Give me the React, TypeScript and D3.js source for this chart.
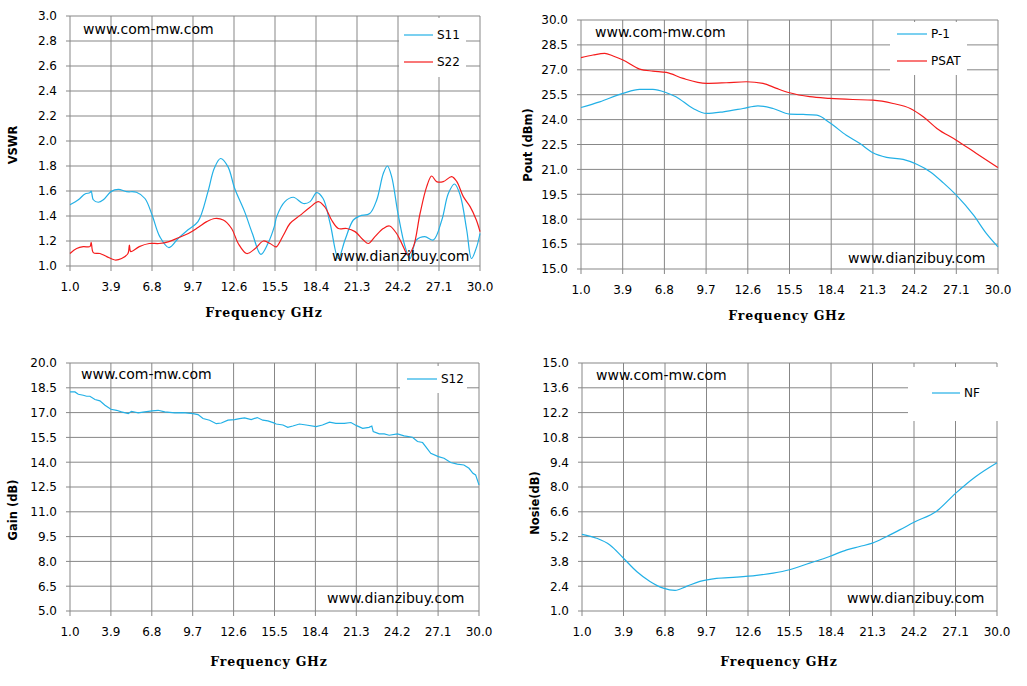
import React from 'react';
import * as d3 from 'd3';

type Pt = [number, number];

// x axis ticks (GHz), shared by all four charts
const freqTicks = [1.0, 3.9, 6.8, 9.7, 12.6, 15.5, 18.4, 21.3, 24.2, 27.1, 30.0];

// VSWR
const s11: Pt[] = [
    [1.0, 1.49], [1.59, 1.53], [2.06, 1.576], [2.41, 1.587], [2.5, 1.6], [2.65, 1.53], [3.0, 1.51],
    [3.36, 1.53], [3.9, 1.595], [4.42, 1.613], [5.0, 1.595], [5.7, 1.59], [6.3, 1.54], [6.8, 1.41],
    [7.35, 1.235], [8.0, 1.147], [8.65, 1.22], [9.35, 1.29], [10.05, 1.355], [10.76, 1.595],
    [11.2, 1.78], [11.65, 1.86], [12.17, 1.795], [12.65, 1.62], [13.35, 1.435], [13.9, 1.26],
    [14.5, 1.093], [15.0, 1.18], [15.45, 1.315], [15.62, 1.395], [16.2, 1.515], [16.8, 1.55],
    [17.5, 1.5], [17.98, 1.515], [18.45, 1.587], [18.9, 1.54], [19.4, 1.34], [19.98, 1.06],
    [20.45, 1.208], [21.04, 1.368], [21.5, 1.4], [22.2, 1.42], [22.7, 1.53], [23.16, 1.74],
    [23.45, 1.8], [23.75, 1.715], [24.2, 1.42], [24.7, 1.155], [25.05, 1.06], [25.5, 1.208],
    [26.1, 1.235], [26.7, 1.208], [27.3, 1.368], [27.76, 1.58], [28.2, 1.656], [28.6, 1.566],
    [29.06, 1.288], [29.4, 1.06], [29.77, 1.155], [30.0, 1.26],
];
const s22: Pt[] = [
    [1.0, 1.1], [1.47, 1.14], [1.94, 1.155], [2.41, 1.155], [2.5, 1.19], [2.65, 1.107], [3.12, 1.1],
    [3.6, 1.075], [4.18, 1.048], [4.65, 1.06], [5.1, 1.1], [5.2, 1.168], [5.3, 1.115], [5.9, 1.155],
    [6.6, 1.18], [7.3, 1.18], [8.0, 1.195], [8.66, 1.226], [9.37, 1.26], [10.08, 1.31], [10.67, 1.355],
    [11.25, 1.38], [11.84, 1.368], [12.43, 1.3], [12.9, 1.18], [13.5, 1.1], [14.1, 1.14], [14.68, 1.2],
    [15.15, 1.18], [15.5, 1.155], [15.62, 1.155], [16.1, 1.248], [16.56, 1.34], [17.27, 1.405],
    [17.98, 1.47], [18.57, 1.515], [19.04, 1.47], [19.5, 1.368], [19.98, 1.3], [20.57, 1.3],
    [21.16, 1.275], [21.75, 1.208], [22.1, 1.18], [22.57, 1.235], [23.16, 1.3], [23.6, 1.32],
    [24.1, 1.26], [24.57, 1.155], [24.9, 1.088], [25.29, 1.155], [25.76, 1.42], [26.23, 1.635],
    [26.58, 1.72], [26.93, 1.675], [27.4, 1.675], [28.0, 1.715], [28.36, 1.675], [28.82, 1.555],
    [29.3, 1.475], [29.74, 1.368], [30.0, 1.275],
];

// Pout
const p1: Pt[] = [
    [1.0, 24.73], [2.3, 25.07], [3.92, 25.58], [5.08, 25.82], [6.0, 25.82], [6.94, 25.62], [7.6, 25.38],
    [8.8, 24.67], [9.72, 24.37], [10.9, 24.47], [12.27, 24.67], [13.3, 24.83], [14.36, 24.67],
    [15.5, 24.33], [16.45, 24.31], [17.4, 24.27], [18.3, 23.81], [19.45, 23.06], [20.4, 22.56],
    [21.3, 22.0], [22.25, 21.72], [23.4, 21.6], [24.35, 21.31], [25.3, 20.85], [26.2, 20.19],
    [27.1, 19.45], [28.3, 18.24], [29.2, 17.13], [30.0, 16.33],
];
const psat: Pt[] = [
    [1.0, 27.73], [1.84, 27.89], [2.65, 27.99], [3.23, 27.83], [3.92, 27.59], [5.08, 27.04], [6.0, 26.92],
    [6.94, 26.84], [8.1, 26.48], [9.72, 26.18], [11.1, 26.22], [12.5, 26.28], [13.66, 26.18],
    [14.6, 25.88], [15.5, 25.62], [16.9, 25.38], [18.3, 25.28], [19.9, 25.21], [21.3, 25.17],
    [22.7, 24.97], [23.9, 24.67], [24.8, 24.17], [25.75, 23.47], [27.1, 22.76], [28.5, 21.96],
    [30.0, 21.11],
];

// Gain
const s12: Pt[] = [
    [1.0, 18.25], [1.35, 18.25], [1.59, 18.11], [1.94, 18.05], [2.18, 17.99], [2.41, 17.99], [2.77, 17.79],
    [3.12, 17.71], [3.48, 17.44], [3.9, 17.2], [4.3, 17.14], [4.65, 17.04], [5.13, 16.94], [5.36, 17.08],
    [5.83, 16.98], [6.3, 17.04], [6.82, 17.1], [7.25, 17.14], [7.72, 17.04], [8.43, 16.98], [9.0, 17.0],
    [9.72, 16.94], [10.08, 16.88], [10.43, 16.64], [10.9, 16.54], [11.37, 16.33], [11.73, 16.37],
    [12.2, 16.54], [12.67, 16.58], [13.02, 16.64], [13.38, 16.68], [13.85, 16.58], [14.28, 16.7],
    [14.67, 16.54], [15.03, 16.5], [15.45, 16.38], [15.62, 16.31], [16.1, 16.25], [16.44, 16.11],
    [16.8, 16.19], [17.27, 16.31], [17.74, 16.25], [18.45, 16.15], [18.9, 16.25], [19.4, 16.42],
    [19.85, 16.35], [20.45, 16.35], [20.92, 16.4], [21.32, 16.21], [21.75, 16.05], [22.2, 16.11],
    [22.4, 16.19], [22.5, 15.85], [22.93, 15.71], [23.28, 15.71], [23.63, 15.63], [24.22, 15.71],
    [24.69, 15.59], [25.28, 15.51], [25.64, 15.25], [26.0, 15.19], [26.22, 14.94], [26.58, 14.54],
    [27.12, 14.34], [27.52, 14.24], [27.99, 13.98], [28.46, 13.88], [28.93, 13.83], [29.29, 13.63],
    [29.57, 13.33], [29.76, 13.23], [30.0, 12.63],
];

// Noise figure
const nf: Pt[] = [
    [1.0, 5.33], [2.02, 5.11], [2.95, 4.73], [3.9, 3.98], [4.82, 3.23], [5.75, 2.67], [6.68, 2.29],
    [7.5, 2.16], [8.3, 2.39], [9.24, 2.67], [10.4, 2.84], [11.8, 2.91], [13.2, 3.01], [14.36, 3.14],
    [15.5, 3.33], [16.9, 3.7], [18.3, 4.08], [19.5, 4.45], [20.4, 4.64], [21.3, 4.83], [22.3, 5.21],
    [23.2, 5.58], [24.2, 6.01], [25.8, 6.65], [27.1, 7.64], [28.5, 8.58], [30.0, 9.37],
];

const BLUE = '#22b0e6';
const RED = '#f51c1c';
const GRID = '#878787';
const SANS = 'DejaVu Sans, Verdana, sans-serif';
const SERIF = "'DejaVu Serif', 'Liberation Serif', serif";

type Series = { name: string; data: Pt[]; color: string; curve: d3.CurveFactory; ly: number };

interface PanelProps {
    left: number; right: number; top: number; bottom: number;
    yMin: number; yStep: number;
    series: Series[];
    legendBox: [number, number, number, number];
    legendX: [number, number];
    yTitle: string; yTitleX: number; yTitleY: number;
    xTitleX: number; xTitleY: number;
    mark1: [number, number]; mark2: [number, number];
}

const Panel: React.FC<PanelProps> = (p) => {
    const yTicks = d3.range(11).map(i => p.yMin + i * p.yStep);
    const x = d3.scaleLinear().domain([1, 30]).range([p.left, p.right]);
    const y = d3.scaleLinear().domain([yTicks[0], yTicks[10]]).range([p.bottom, p.top]);
    const [bx, by, bw, bh] = p.legendBox;

    return (
        <g>
            {/* grid */}
            {yTicks.map((t, i) => (
                <line key={'h' + i} x1={p.left - 4} x2={p.right} y1={y(t)} y2={y(t)} stroke={GRID} strokeWidth={1} />
            ))}
            {freqTicks.map((t, i) => (
                <line key={'v' + i} x1={x(t)} x2={x(t)} y1={p.top} y2={p.bottom + 5} stroke={GRID} strokeWidth={1} />
            ))}
            {/* legend background hides the grid */}
            <rect x={bx} y={by} width={bw} height={bh} fill="#fff" />

            {p.series.map((s) => {
                const line = d3.line<Pt>()
                    .x(d => x(d[0]))
                    .y(d => y(d[1]))
                    .curve(s.curve);
                return <path key={s.name} d={line(s.data) || ''} fill="none" stroke={s.color} strokeWidth={1.2} />;
            })}

            {p.series.map((s) => (
                <g key={'lg' + s.name}>
                    <line x1={p.legendX[0]} x2={p.legendX[1]} y1={s.ly} y2={s.ly} stroke={s.color} strokeWidth={1.2} />
                    <text x={p.legendX[1] + 4} y={s.ly} dy="0.35em" fontSize={12} fontFamily={SANS} fill="#000">{s.name}</text>
                </g>
            ))}

            {/* tick labels */}
            {yTicks.map((t, i) => (
                <text key={'yl' + i} x={p.left - 13} y={y(t)} dy="0.36em" textAnchor="end" fontSize={12} fontFamily={SANS}>
                    {t.toFixed(1)}
                </text>
            ))}
            {freqTicks.map((t, i) => (
                <text key={'xl' + i} x={x(t)} y={p.bottom + 21} dy="0.36em" textAnchor="middle" fontSize={12} fontFamily={SANS}>
                    {t.toFixed(1)}
                </text>
            ))}

            <text x={p.xTitleX} y={p.xTitleY} dy="0.35em" textAnchor="middle" fontWeight="bold"
                letterSpacing={0.8} style={{ fontFamily: SERIF, fontSize: '12.5px' }}>Frequency GHz</text>
            <text transform={`translate(${p.yTitleX},${p.yTitleY}) rotate(-90)`} dy="0.35em" textAnchor="middle"
                fontSize={11.5} fontWeight="bold" fontFamily={SANS}>{p.yTitle}</text>

            <text x={p.mark1[0]} y={p.mark1[1]} dy="0.35em" fontSize={14} fontFamily={SANS}>www.com-mw.com</text>
            <text x={p.mark2[0]} y={p.mark2[1]} dy="0.35em" fontSize={14} fontFamily={SANS}>www.dianzibuy.com</text>
        </g>
    );
};

export default function App() {
    const smooth = d3.curveMonotoneX;
    const rough = d3.curveCatmullRom.alpha(0.5);
    return (
        <svg width={1027} height={686} style={{ position: 'absolute', left: 0, top: 0, background: '#fff' }}>
            <rect width={1027} height={686} fill="#fff" />
            <Panel
                left={70} right={480} top={16} bottom={266} yMin={1.0} yStep={0.2}
                series={[
                    { name: 'S11', data: s11, color: BLUE, curve: rough, ly: 35 },
                    { name: 'S22', data: s22, color: RED, curve: rough, ly: 62 },
                ]}
                legendBox={[399, 18, 67, 59]} legendX={[404, 433]}
                yTitle="VSWR" yTitleX={13} yTitleY={145}
                xTitleX={264} xTitleY={313}
                mark1={[83, 29]} mark2={[332, 256]}
            />
            <Panel
                left={581} right={998} top={20} bottom={269} yMin={15.0} yStep={1.5}
                series={[
                    { name: 'P-1', data: p1, color: BLUE, curve: smooth, ly: 34 },
                    { name: 'PSAT', data: psat, color: RED, curve: smooth, ly: 61 },
                ]}
                legendBox={[890, 22, 77, 53]} legendX={[897, 927]}
                yTitle="Pout (dBm)" yTitleX={528} yTitleY={145}
                xTitleX={787} xTitleY={316}
                mark1={[595, 32]} mark2={[848, 258]}
            />
            <Panel
                left={70} right={479} top={363} bottom={611} yMin={5.0} yStep={1.5}
                series={[
                    { name: 'S12', data: s12, color: BLUE, curve: d3.curveLinear, ly: 379 },
                ]}
                legendBox={[400, 366, 67, 27]} legendX={[407, 437]}
                yTitle="Gain (dB)" yTitleX={13} yTitleY={510}
                xTitleX={269} xTitleY={662}
                mark1={[81, 374]} mark2={[327, 598]}
            />
            <Panel
                left={582} right={997} top={363} bottom={611} yMin={1.0} yStep={1.4}
                series={[
                    { name: 'NF', data: nf, color: BLUE, curve: smooth, ly: 393 },
                ]}
                legendBox={[908, 367, 94, 54]} legendX={[932, 960]}
                yTitle="Nosie(dB)" yTitleX={535} yTitleY={503}
                xTitleX={779} xTitleY={662}
                mark1={[596, 375]} mark2={[847, 598]}
            />
        </svg>
    );
}
